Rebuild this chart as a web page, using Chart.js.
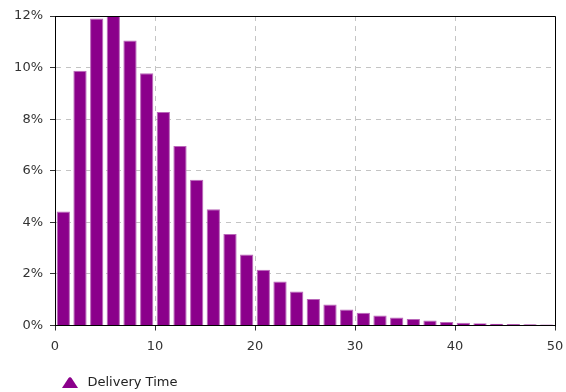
<!DOCTYPE html>
<html>
<head>
<meta charset="utf-8">
<script src="https://cdn.jsdelivr.net/npm/chart.js@4/dist/chart.umd.min.js"></script>
<style>
  html, body { margin: 0; padding: 0; background: #fff; }
  #wrap { width: 566px; height: 392px; }
</style>
</head>
<body>
<div id="wrap"><canvas id="myChart" width="566" height="392"></canvas></div>
<script>
// bin centres (delivery time, bins ~1.67 wide)
const binCenters = [0.83, 2.5, 4.17, 5.83, 7.5, 9.17, 10.83, 12.5, 14.17, 15.83,
                    17.5, 19.17, 20.83, 22.5, 24.17, 25.83, 27.5, 29.17, 30.83, 32.5,
                    34.17, 35.83, 37.5, 39.17, 40.83, 42.5, 44.17, 45.83, 47.5, 49.17]
// share of deliveries, in %
const shares = [4.42, 9.88, 11.9, 12.0, 11.05, 9.78, 8.28, 6.96, 5.65, 4.51,
                3.55, 2.75, 2.16, 1.71, 1.32, 1.03, 0.81, 0.62, 0.49, 0.39,
                0.31, 0.25, 0.19, 0.14, 0.11, 0.09, 0.07, 0.06, 0.05, 0.04]
const xTicks = [0, 10, 20, 30, 40, 50]
const yTicks = [0, 2, 4, 6, 8, 10, 12]
const seriesName = 'Delivery Time'

const barColor = '#8b008b'
const font = { family: 'DejaVu Sans', size: 13 }

// flat little triangle used as legend marker
const marker = document.createElement('canvas')
marker.width = 16
marker.height = 11
const mctx = marker.getContext('2d')
mctx.fillStyle = barColor
mctx.beginPath()
mctx.moveTo(0, 11)
mctx.lineTo(16, 11)
mctx.lineTo(9.5, 1)
mctx.lineTo(8, 0)
mctx.lineTo(6.5, 1)
mctx.closePath()
mctx.fill()

// top + right edges of the plot box
const boxBorder = {
    id: 'boxBorder',
    afterDatasetsDraw(chart) {
        const { ctx, chartArea: a } = chart
        ctx.save()
        ctx.strokeStyle = '#000'
        ctx.lineWidth = 1
        ctx.beginPath()
        ctx.moveTo(Math.round(a.left) + 0.5, Math.round(a.top) + 0.5)
        ctx.lineTo(Math.round(a.right) + 0.5, Math.round(a.top) + 0.5)
        ctx.lineTo(Math.round(a.right) + 0.5, Math.round(a.bottom) + 0.5)
        ctx.stroke()
        ctx.restore()
    }
}

const ctx = document.getElementById('myChart').getContext('2d')
new Chart(ctx, {
    type: 'bar',
    data: {
        datasets: [{
            label: seriesName,
            data: binCenters.map((x, i) => ({ x: x, y: shares[i] })),
            backgroundColor: barColor,
            borderColor: '#b968b9',
            borderWidth: 1,
            barPercentage: 0.8,
            categoryPercentage: 1,
            pointStyle: marker
        }]
    },
    options: {
        responsive: false,
        animation: false,
        layout: { padding: { top: 16, right: 11, left: 0, bottom: -7 } },
        scales: {
            x: {
                type: 'linear',
                min: 0,
                max: 50,
                offset: false,
                afterFit: (s) => { s.height = 46.5; s.paddingLeft = 0; s.paddingRight = 0 },
                afterBuildTicks: (s) => { s.ticks = xTicks.map(v => ({ value: v })) },
                ticks: { font: font, color: '#333', padding: 8, maxRotation: 0, autoSkip: false },
                grid: { color: '#c4c4c4', tickColor: '#333', tickLength: 5, tickBorderDash: [], offset: false },
                border: { color: '#000', dash: [5, 5] }
            },
            y: {
                min: 0,
                max: 12,
                afterFit: (s) => { s.width = 55 },
                afterBuildTicks: (s) => { s.ticks = yTicks.map(v => ({ value: v })) },
                ticks: { font: font, color: '#333', padding: 7, callback: (v) => v + '%' },
                grid: { color: '#c4c4c4', tickColor: '#333', tickLength: 5, tickBorderDash: [] },
                border: { color: '#000', dash: [5, 5] }
            }
        },
        plugins: {
            legend: {
                position: 'bottom',
                align: 'start',
                fullSize: false,
                labels: {
                    font: font,
                    color: '#222',
                    usePointStyle: true,
                    pointStyleWidth: 22,
                    padding: 4
                }
            },
            tooltip: { enabled: false }
        }
    },
    plugins: [boxBorder]
})
</script>
</body>
</html>
